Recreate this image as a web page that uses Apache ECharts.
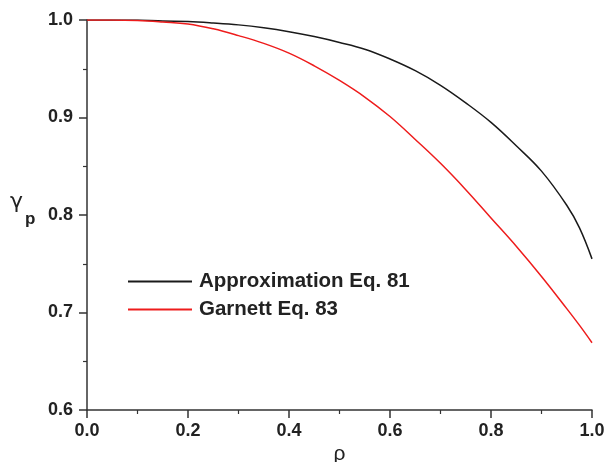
<!DOCTYPE html>
<html><head><meta charset="utf-8">
<script src="https://cdn.jsdelivr.net/npm/echarts@6/dist/echarts.min.js"></script>
<style>html,body{margin:0;padding:0;background:#fff}#c{width:606px;height:462px}</style>
</head><body><div id="c"></div>
<script>
const rho = [0,0.05,0.1,0.15,0.2,0.25,0.3,0.35,0.4,0.45,0.5,0.55,0.6,0.65,0.7,0.75,0.8,0.85,0.9,0.95,0.975,1.0];
const approxEq81 = [1.000,1.000,1.000,0.999,0.9985,0.997,0.995,0.992,0.988,0.983,0.977,0.970,0.960,0.948,0.933,0.915,0.895,0.871,0.845,0.810,0.787,0.755];
const garnettEq83 = [1.000,1.000,0.9995,0.998,0.996,0.991,0.984,0.976,0.966,0.953,0.938,0.921,0.901,0.8775,0.853,0.826,0.797,0.768,0.737,0.704,0.687,0.669];
const seriesNames = ['Approximation Eq. 81','Garnett Eq. 83'];
const xTicks = [0.0,0.2,0.4,0.6,0.8,1.0];
const yTicks = [0.6,0.7,0.8,0.9,1.0];

const chart = echarts.init(document.getElementById('c'));
const font = 'Liberation Sans, Arial, sans-serif';
const axisCol = '#333';
function axisCommon(){
  return {
    axisLine:{show:true,onZero:false,lineStyle:{color:axisCol,width:1.5}},
    axisTick:{show:true,inside:false,length:8,lineStyle:{color:axisCol,width:1.5}},
    minorTick:{show:true,splitNumber:2,length:4,lineStyle:{color:axisCol,width:1.2}},
    splitLine:{show:false},
    axisLabel:{color:'#222',fontFamily:font,fontWeight:'bold',fontSize:18,formatter:v=>v.toFixed(1)}
  };
}
const xa = axisCommon();
xa.axisLabel.margin = 12;
const ya = axisCommon();
ya.axisLabel.margin = 14;
chart.setOption({
  animation:false,
  grid:{left:87,right:14,top:20,bottom:52,outerBoundsMode:'none',containLabel:false},
  xAxis:Object.assign({type:'value',min:xTicks[0],max:xTicks[xTicks.length-1],interval:0.2,
    name:'ρ',nameLocation:'middle',nameGap:34,nameMoveOverlap:false,nameTextStyle:{fontFamily:font,fontSize:21,color:'#222'}},xa),
  yAxis:Object.assign({type:'value',min:yTicks[0],max:yTicks[yTicks.length-1],interval:0.1},ya),
  legend:{orient:'vertical',left:123,top:266,itemWidth:64,itemHeight:2,itemGap:7,icon:'rect',
    textStyle:{fontFamily:font,fontWeight:'bold',fontSize:20.5,color:'#222',padding:[0,0,0,2]},
    data:seriesNames},
  graphic:[
    {type:'text',left:10,top:191,style:{text:'γ',fontFamily:'DejaVu Sans, sans-serif',fontSize:22,fill:'#222'}},
    {type:'text',left:25,top:211,style:{text:'p',fontFamily:font,fontWeight:'bold',fontSize:17,fill:'#222'}}
  ],
  series:[
    {name:seriesNames[0],type:'line',smooth:0.4,showSymbol:false,
      lineStyle:{color:'#1a1a1a',width:1.5},itemStyle:{color:'#1a1a1a'},
      data:rho.map((r,i)=>[r,approxEq81[i]])},
    {name:seriesNames[1],type:'line',smooth:0.4,showSymbol:false,
      lineStyle:{color:'#ee1c1c',width:1.5},itemStyle:{color:'#ee1c1c'},
      data:rho.map((r,i)=>[r,garnettEq83[i]])}
  ]
});
</script></body></html>
